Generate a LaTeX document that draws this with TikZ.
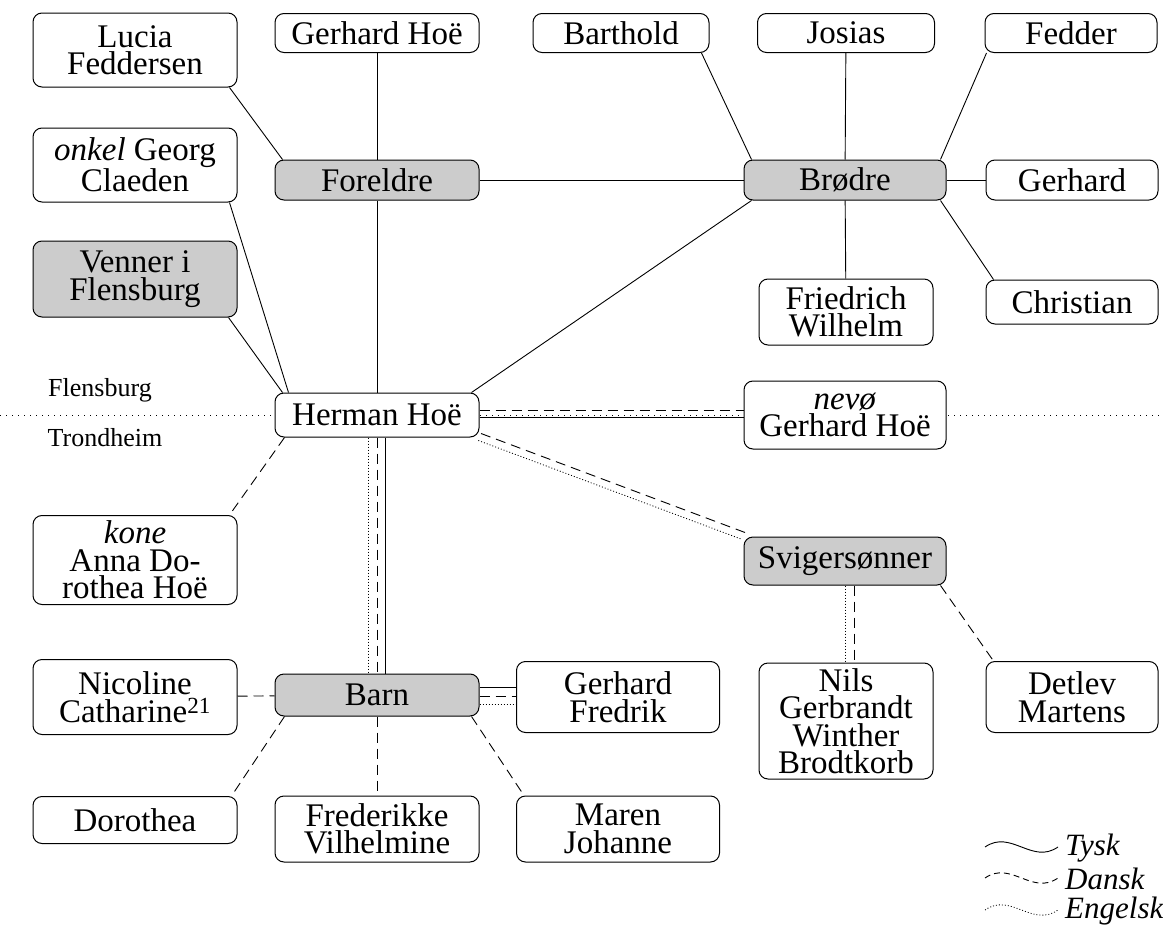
\documentclass[tikz,border=0pt]{standalone}
\usepackage{fontspec}
\setmainfont{Liberation Serif}
\begin{document}
\begin{tikzpicture}[x=1pt,y=-1pt,
  box/.style={draw, line width=1pt, rounded corners=9pt, fill=white, align=center, inner sep=0pt,
    font=\fontsize{33}{27.5}\selectfont},
  grp/.style={box, fill=black!20},
  tysk/.style={line width=0.9pt},
  dansk/.style={line width=0.9pt, dash pattern=on 10pt off 6pt},
  engelsk/.style={line width=0.8pt, dash pattern=on 1pt off 2pt},
  lbl/.style={font=\fontsize{26}{26}\selectfont},
  leg/.style={font=\fontsize{31}{31}\selectfont\itshape, anchor=west, inner sep=0pt}
]
\useasboundingbox (0,0) rectangle (1163,926);
% place divider
\draw[line width=0.8pt, dash pattern=on 1pt off 5pt] (0,415) -- (1163,415);
\node[lbl] (flens) at (100,390) {Flensburg};
\node[lbl] (trond) at (105,438) {Trondheim};

% nodes
\node[box, minimum width=204, minimum height=74] (lucia) at (135,50) {Lucia\\Feddersen};
\node[box, minimum width=204, minimum height=39] (ghoe) at (377,33) {Gerhard Hoë};
\node[box, minimum width=176, minimum height=39] (barthold) at (621,33) {Barthold};
\node[box, minimum width=177, minimum height=39] (josias) at (846,33) {Josias};
\node[box, minimum width=172, minimum height=39] (fedder) at (1071,33) {Fedder};
\node[box, minimum width=204, minimum height=74] (georg) at (135,165) {\textit{onkel} Georg\\Claeden};
\node[grp, minimum width=204, minimum height=40] (foreldre) at (377,180) {Foreldre};
\node[grp, minimum width=202, minimum height=40] (brodre) at (845,180) {Brødre};
\node[box, minimum width=172, minimum height=40] (gerhard) at (1072,180) {Gerhard};
\node[grp, minimum width=204, minimum height=76] (venner) at (135,279) {Venner i\\Flensburg};
\node[box, minimum width=174, minimum height=66] (friedrich) at (846,312) {Friedrich\\Wilhelm};
\node[box, minimum width=172, minimum height=44] (christian) at (1072,302) {Christian};
\node[box, minimum width=204, minimum height=44] (herman) at (377,415) {Herman Hoë};
\node[box, minimum width=202, minimum height=68] (nevo) at (845,415) {\textit{nevø}\\Gerhard Hoë};
\node[box, minimum width=204, minimum height=89] (kone) at (135,560) {\textit{kone}\\Anna Do-\\rothea Hoë};
\node[grp, minimum width=202, minimum height=48] (svig) at (845,561) {Svigersønner};
\node[box, minimum width=204, minimum height=75] (nicoline) at (135,697) {Nicoline\\Catharine\textsuperscript{21}};
\node[grp, minimum width=204, minimum height=42] (barn) at (377,695) {Barn};
\node[box, minimum width=203, minimum height=71] (gf) at (618,697) {Gerhard\\Fredrik};
\node[box, minimum width=174, minimum height=116] (nils) at (846,721) {Nils\\Gerbrandt\\Winther\\Brodtkorb};
\node[box, minimum width=172, minimum height=71] (detlev) at (1072,697) {Detlev\\Martens};
\node[box, minimum width=204, minimum height=47] (dorothea) at (135,820) {Dorothea};
\node[box, minimum width=204, minimum height=66] (frederikke) at (377,829) {Frederikke\\Vilhelmine};
\node[box, minimum width=203, minimum height=66] (maren) at (618,829) {Maren\\Johanne};

% Tysk connectors
\draw[tysk] ([xshift=-8pt]lucia.south east) -- ([xshift=8pt]foreldre.north west);
\draw[tysk] (ghoe) -- (foreldre);
\draw[tysk] (foreldre) -- (brodre);
\draw[tysk] (foreldre) -- (herman);
\draw[tysk] ([xshift=-8pt]barthold.south east) -- ([xshift=8pt]brodre.north west);
\draw[tysk] (josias) -- (brodre);
\draw[tysk] ([xshift=2pt]fedder.south west) -- ([xshift=-6pt]brodre.north east);
\draw[tysk] (gerhard) -- (brodre);
\draw[tysk] ([xshift=8pt]christian.north west) -- ([xshift=-6pt]brodre.south east);
\draw[tysk] (friedrich) -- (brodre);
\draw[tysk] ([xshift=-8pt]herman.north east) -- ([xshift=8pt]brodre.south west);
\draw[tysk] ([xshift=-8pt]georg.south east) -- ([xshift=14pt]herman.north west);
\draw[tysk] ([xshift=-9pt]venner.south east) -- ([xshift=8pt]herman.north west);

% Herman - nevo
\draw[tysk] ([yshift=-2pt]herman.east) -- ([yshift=-2pt]nevo.west);
\draw[dansk] ([yshift=5pt]herman.east) -- ([yshift=5pt]nevo.west);

% Herman - Barn
\draw[engelsk] ([xshift=-9pt]herman.south) -- ([xshift=-9pt]barn.north);
\draw[dansk] (herman.south) -- (barn.north);
\draw[tysk] ([xshift=8pt]herman.south) -- ([xshift=8pt]barn.north);

% Herman - Svigersonner
\draw[dansk] ([xshift=1.5pt,yshift=4pt]herman.south east) -- ([xshift=1.5pt,yshift=4pt]svig.north west);
\draw[engelsk] ([xshift=-1.2pt,yshift=-3pt]herman.south east) -- ([xshift=-1.2pt,yshift=-3pt]svig.north west);

% Herman - kone
\draw[dansk] ([xshift=10pt]herman.south west) -- ([xshift=-8pt]kone.north east);

% Barn connectors
\draw[dansk] (nicoline) -- (barn);
\draw[tysk] ([yshift=8pt]barn.east) -- ([yshift=8pt]barn.east -| gf.west);
\draw[dansk] ([yshift=-1pt]barn.east) -- ([yshift=-1pt]barn.east -| gf.west);
\draw[engelsk] ([yshift=-9pt]barn.east) -- ([yshift=-9pt]barn.east -| gf.west);
\draw[dansk] ([xshift=10pt]barn.south west) -- ([xshift=-6pt]dorothea.north east);
\draw[dansk] (barn) -- (frederikke);
\draw[dansk] ([xshift=-8pt]barn.south east) -- ([xshift=8pt]maren.north west);

% Svigersonner connectors
\draw[engelsk] (svig.south) -- (svig.south |- nils.north);
\draw[dansk] ([xshift=9pt]svig.south) -- ([xshift=9pt]svig.south |- nils.north);
\draw[dansk] ([xshift=-6pt]svig.south east) -- ([xshift=8pt]detlev.north west);

% legend
\coordinate (l1a) at (985,847); \coordinate (l1b) at (1058,847);
\coordinate (l2a) at (985,878); \coordinate (l2b) at (1058,878);
\coordinate (l3a) at (985,910); \coordinate (l3b) at (1058,910);
\draw[tysk] (l1a) .. controls +(26,-18) and +(-26,18) .. (l1b);
\draw[dansk, dash pattern=on 6pt off 4pt] (l2a) .. controls +(26,-18) and +(-26,18) .. (l2b);
\draw[engelsk] (l3a) .. controls +(26,-18) and +(-26,18) .. (l3b);
\node[leg] (tyskl) at (1065,848) {Tysk};
\node[leg] (danskl) at (1065,879) {Dansk};
\node[leg] (engl) at (1065,911) {Engelsk};
\end{tikzpicture}
\end{document}
